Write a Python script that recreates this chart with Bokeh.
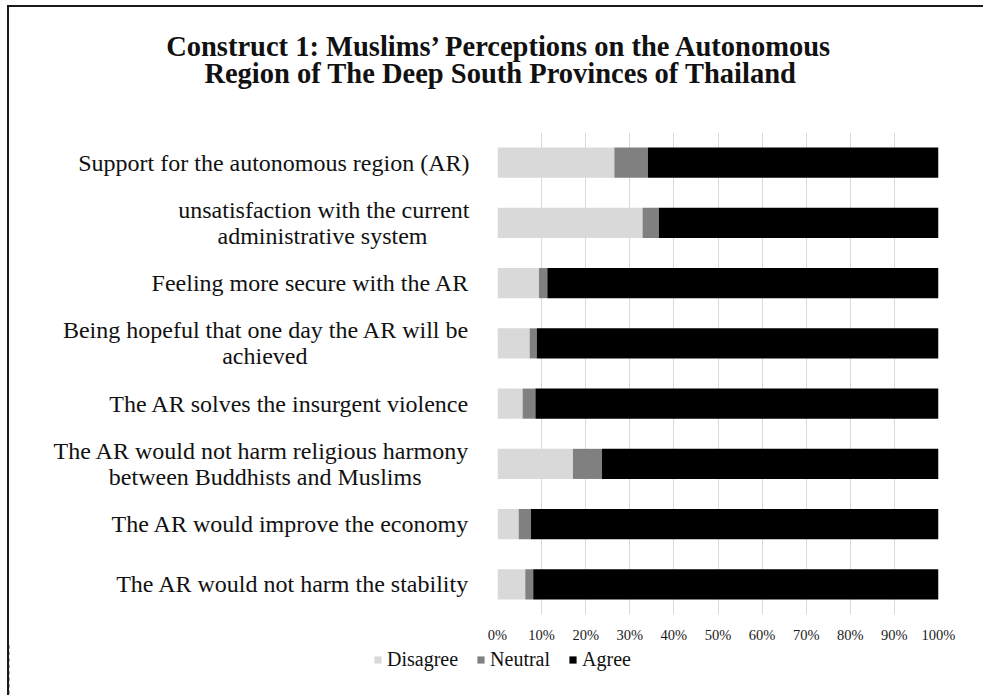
from bokeh.plotting import figure
from bokeh.layouts import column
from bokeh.models import FactorRange, Range1d, Legend, LegendItem, Title, NumeralTickFormatter, FixedTicker
from bokeh.embed import file_html
from bokeh.resources import INLINE

NB = "\u00a0"
categories = [
    "Support for the autonomous region (AR)",
    "unsatisfaction with the current\nadministrative system" + NB * 7,
    "Feeling more secure with the AR",
    "Being hopeful that one day the AR will be\nachieved" + NB * 27,
    "The AR solves the insurgent violence",
    "The AR would not harm religious harmony\nbetween Buddhists and Muslims" + NB * 8,
    "The AR would improve the economy",
    "The AR would not harm the stability",
]
disagree = [0.265, 0.329, 0.094, 0.073, 0.057, 0.171, 0.048, 0.063]
neutral = [0.076, 0.037, 0.019, 0.016, 0.029, 0.066, 0.028, 0.018]
agree = [0.659, 0.634, 0.887, 0.911, 0.914, 0.763, 0.924, 0.919]
series = ["Disagree", "Neutral", "Agree"]
colors = ["#d9d9d9", "#808080", "#000000"]
ticks = [0, 0.1, 0.2, 0.3, 0.4, 0.5, 0.6, 0.7, 0.8, 0.9, 1.0]
title_lines = [
    "Construct 1: Muslims\u2019 Perceptions on the Autonomous",
    "Region of The Deep South Provinces of Thailand",
]

FONT = "Liberation Serif"
BORDER = "2px solid #1a1a1a"

p = figure(
    width=976, height=638,
    y_range=FactorRange(factors=categories[::-1], range_padding=0),
    x_range=Range1d(0, 1),
    output_backend="svg", toolbar_location=None,
    min_border_left=488, min_border_right=47, min_border_top=125, min_border_bottom=26,
)
p.frame_align = False
p.styles = {"border-left": BORDER, "border-top": BORDER, "margin-left": "7px", "margin-top": "5px"}
p.outline_line_color = None
p.background_fill_color = "white"
p.border_fill_color = "white"

data = dict(cat=categories, Disagree=disagree, Neutral=neutral, Agree=agree)
p.hbar_stack(series, y="cat", height=0.5, color=colors, source=data, line_color=None)

# axes
p.xaxis.ticker = FixedTicker(ticks=ticks)
p.xaxis.formatter = NumeralTickFormatter(format="0%")
p.xaxis.axis_line_color = None
p.xaxis.major_tick_line_color = None
p.xaxis.minor_tick_line_color = None
p.xaxis.major_label_text_font = FONT
p.xaxis.major_label_text_font_size = "14.5px"
p.xaxis.major_label_text_color = "#1a1a1a"
p.xaxis.major_label_standoff = 6

p.yaxis.axis_line_color = None
p.yaxis.major_tick_line_color = None
p.yaxis.minor_tick_line_color = None
p.yaxis.major_label_text_font = FONT
p.yaxis.major_label_text_font_size = "24px"
p.yaxis.major_label_text_line_height = 1.0
p.yaxis.major_label_text_color = "#111111"
p.yaxis.major_label_standoff = 22

p.xgrid.grid_line_color = "#d9d9d9"
p.xgrid.grid_line_width = 1
p.ygrid.grid_line_color = None

# title: spacer nearest the frame, then line 2, then line 1
fs = 28.5
p.add_layout(Title(text=" ", text_font=FONT, text_font_size=f"{fs}px", standoff=11), "above")
widths_em = [23.39, 20.71]
standoffs = [-12, 0]
for line, wem, so in list(zip(title_lines, widths_em, standoffs))[::-1]:
    w = wem * fs
    p.add_layout(Title(
        text=line, align="left", offset=2 - w / 2,
        text_font=FONT, text_font_size=f"{fs}px", text_font_style="bold",
        text_color="#111111", standoff=so,
    ), "above")

# legend strip below the chart; its series renderers sit outside the strip's view
lg = figure(
    width=976, height=52, x_range=Range1d(2, 3), y_range=FactorRange(factors=categories[::-1]),
    output_backend="svg", toolbar_location=None,
    min_border_left=0, min_border_right=0, min_border_top=0, min_border_bottom=0,
    x_axis_type=None, y_axis_type=None,
)
lg.frame_align = False
lg.styles = {"border-left": BORDER, "margin-left": "7px"}
lg.outline_line_color = None
lg.xgrid.visible = False
lg.ygrid.visible = False
proxies = lg.hbar_stack(series, y="cat", height=0.5, color=colors, source=data, line_color=None)
legend = Legend(
    items=[LegendItem(label=s, renderers=[r]) for s, r in zip(series, proxies)],
    orientation="horizontal", location=(364, 24),
    label_text_font=FONT, label_text_font_size="20px", label_text_color="#111111",
    glyph_width=9, glyph_height=9, label_standoff=5, spacing=18,
    padding=0, margin=0, border_line_color=None, background_fill_alpha=0,
)
lg.add_layout(legend, "center")

layout = column(p, lg, spacing=0)
open("out.html", "w").write(file_html(layout, INLINE))
